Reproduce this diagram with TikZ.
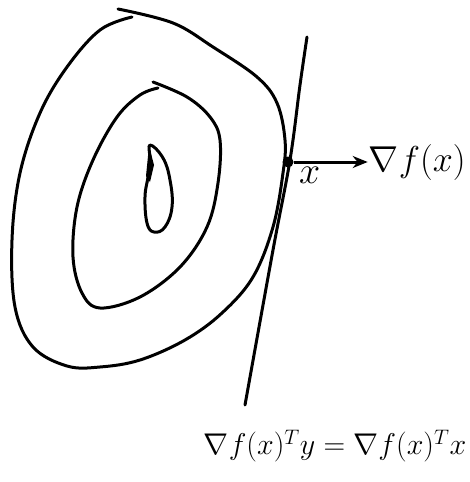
\documentclass[tikz,border=0pt]{standalone}
\usepackage{fix-cm}
\usepackage{amsmath,amssymb}
\usepackage{xcolor}
\usepackage{tikz}
\usetikzlibrary{arrows.meta,positioning}

\begin{document}
\begin{tikzpicture}[
    x=1pt, y=-1pt,
    contour/.style={line width=3pt, line cap=round, line join=round},
    label/.style={font=\fontsize{30}{36}\selectfont, inner sep=1pt},
    arrow/.style={-{Stealth[length=15pt,width=12pt]}, line width=3pt}
]
\useasboundingbox (0,0) rectangle (469,482);

% level curves
\draw[contour] plot[smooth, tension=0.6] coordinates {
    (118,9) (173,23) (213,47) (257,77) (277,103) (285,140) (283,173)
    (273,227) (253,277) (222,313) (185,340) (140,360) (100,367) (67,366)
    (33,347) (15,307) (12,240) (20,173) (40,113) (67,67) (100,30) (132,17)};
\draw[contour] plot[smooth, tension=0.6] coordinates {
    (153,82) (187,97) (210,117) (220,140) (218,183) (207,227) (180,267)
    (140,297) (100,308) (82,293) (73,257) (77,207) (93,160) (117,117)
    (140,95) (158,88)};
\draw[contour] plot[smooth cycle, tension=0.7] coordinates {
    (150,145) (163,158) (170,180) (172,207) (165,227) (154,232) (147,223)
    (145,197) (148,177) (150,160)};
\fill (149,146) -- (154,165) -- (150,182) -- (146,176) -- cycle;

% tangent line
\draw[contour] plot[smooth, tension=0.6] coordinates {
    (307,37) (300,85) (290,160) (273,250) (245,405)};

% point and gradient
\node[circle, fill, inner sep=0pt, minimum size=11pt] (pt) at (288,162) {};
\node[label, font=\fontsize{36}{42}\selectfont, right=74pt of pt] (grad) {$\nabla f(x)$};
\node[label, font=\fontsize{38}{44}\selectfont, below right=0pt and 6pt of pt] (xlbl) {$x$};
\draw[arrow] (pt) -- (grad);

% hyperplane equation
\node[label] (plane) at (335,446) {$\nabla f(x)^{T}y = \nabla f(x)^{T}x$};
\end{tikzpicture}
\end{document}
